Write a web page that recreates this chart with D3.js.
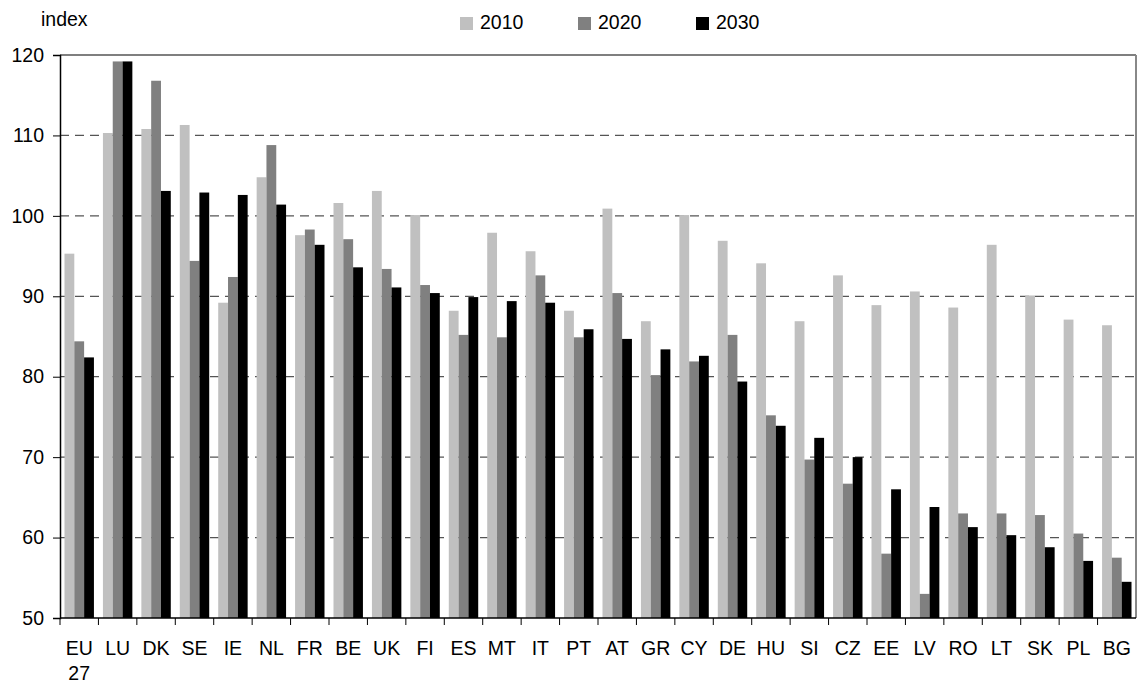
<!DOCTYPE html>
<html>
<head>
<meta charset="utf-8">
<script src="https://cdn.jsdelivr.net/npm/d3@7"></script>
<style>
  body { margin: 0; background: #fff; }
  svg text { font-family: Arial, "Liberation Sans", sans-serif; fill: #000; }
</style>
</head>
<body>
<div id="chart"></div>
<script>
// Data
const countries = ["EU 27","LU","DK","SE","IE","NL","FR","BE","UK","FI","ES","MT","IT","PT",
  "AT","GR","CY","DE","HU","SI","CZ","EE","LV","RO","LT","SK","PL","BG"];
const years = ["2010", "2020", "2030"];
const v2010 = [95.3,110.3,110.8,111.3,89.2,104.8,97.6,101.6,103.1,100.1,88.2,97.9,95.6,88.2,
  100.9,86.9,100.1,96.9,94.1,86.9,92.6,88.9,90.6,88.6,96.4,90.1,87.1,86.4];
const v2020 = [84.4,119.2,116.8,94.4,92.4,108.8,98.3,97.1,93.4,91.4,85.2,84.9,92.6,84.9,
  90.4,80.2,81.9,85.2,75.2,69.7,66.7,58.0,53.0,63.0,63.0,62.8,60.5,57.5];
const v2030 = [82.4,119.2,103.1,102.9,102.6,101.4,96.4,93.6,91.1,90.4,89.9,89.4,89.2,85.9,
  84.7,83.4,82.6,79.4,73.9,72.4,70.0,66.0,63.8,61.3,60.3,58.8,57.1,54.5];
const yTicks = [50, 60, 70, 80, 90, 100, 110, 120];
const colors = {"2010": "#c0c0c0", "2020": "#808080", "2030": "#000000"};

const data = countries.map((c, i) => ({
  country: c,
  values: [
    {year: "2010", value: v2010[i]},
    {year: "2020", value: v2020[i]},
    {year: "2030", value: v2030[i]}
  ]
}));

// Layout
const W = 1138, H = 689;
const plot = {left: 60, right: 1136, top: 55, bottom: 618};

const svg = d3.select("#chart").append("svg")
  .attr("width", W)
  .attr("height", H);

// Scales
const x0 = d3.scaleBand()
  .domain(countries)
  .range([plot.left, plot.right])
  .padding(0);

const x1 = d3.scaleBand()
  .domain(years)
  .range([4.5, x0.bandwidth() - 4.5])
  .padding(0);

const y = d3.scaleLinear()
  .domain([50, 120])
  .range([plot.bottom, plot.top]);

// Gridlines
svg.append("g")
  .selectAll("line")
  .data(yTicks.filter(t => t > 50 && t < 120))
  .join("line")
    .attr("x1", plot.left)
    .attr("x2", plot.right)
    .attr("y1", d => y(d))
    .attr("y2", d => y(d))
    .attr("stroke", "#555")
    .attr("stroke-width", 1.3)
    .attr("stroke-dasharray", "9,6");

// Top and right border
svg.append("line")
  .attr("x1", plot.left).attr("x2", plot.right)
  .attr("y1", y(120)).attr("y2", y(120))
  .attr("stroke", "#555").attr("stroke-width", 1.5);
svg.append("line")
  .attr("x1", plot.right).attr("x2", plot.right)
  .attr("y1", y(120)).attr("y2", y(50))
  .attr("stroke", "#888").attr("stroke-width", 2);

// Bars
svg.append("g")
  .selectAll("g")
  .data(data)
  .join("g")
    .attr("transform", d => `translate(${x0(d.country)},0)`)
  .selectAll("rect")
  .data(d => d.values)
  .join("rect")
    .attr("x", d => x1(d.year))
    .attr("y", d => y(d.value))
    .attr("width", x1.bandwidth())
    .attr("height", d => y(50) - y(d.value))
    .attr("fill", d => colors[d.year]);

// Y axis
const yAxis = svg.append("g")
  .attr("transform", `translate(${plot.left},0)`)
  .call(d3.axisLeft(y).tickValues(yTicks).tickSize(7).tickPadding(9));
yAxis.select(".domain").attr("stroke", "#000").attr("stroke-width", 1.5);
yAxis.selectAll(".tick line").attr("stroke", "#000");
yAxis.selectAll(".tick text")
  .style("font-size", "19.5px")
  .attr("font-family", null);

// X axis: ticks at band boundaries
const xAxis = svg.append("g");
xAxis.append("line")
  .attr("x1", plot.left).attr("x2", plot.right)
  .attr("y1", y(50)).attr("y2", y(50))
  .attr("stroke", "#000").attr("stroke-width", 1.5);
xAxis.selectAll(".xtick")
  .data(countries)
  .join("line")
    .attr("class", "xtick")
    .attr("x1", d => x0(d))
    .attr("x2", d => x0(d))
    .attr("y1", y(50))
    .attr("y2", y(50) + 7)
    .attr("stroke", "#000");

const labels = xAxis.selectAll(".xlabel")
  .data(countries)
  .join("text")
    .attr("class", "xlabel")
    .attr("text-anchor", "middle")
    .style("font-size", "19.5px");
labels.each(function(d) {
  const parts = d.split(" ");
  const t = d3.select(this);
  parts.forEach((p, i) => {
    t.append("tspan")
      .attr("x", x0(d) + x0.bandwidth() / 2)
      .attr("y", 655 + i * 25)
      .text(p);
  });
});

// Axis title
svg.append("text")
  .attr("x", 41)
  .attr("y", 26)
  .style("font-size", "19.5px")
  .text("index");

// Legend
const legendX = [460, 578, 696];
const legend = svg.append("g")
  .selectAll("g")
  .data(years)
  .join("g")
    .attr("transform", (d, i) => `translate(${legendX[i]},17)`);
legend.append("rect")
  .attr("width", 13)
  .attr("height", 13)
  .attr("fill", d => colors[d]);
legend.append("text")
  .attr("x", 20)
  .attr("y", 12)
  .style("font-size", "19.5px")
  .text(d => d);
</script>
</body>
</html>
